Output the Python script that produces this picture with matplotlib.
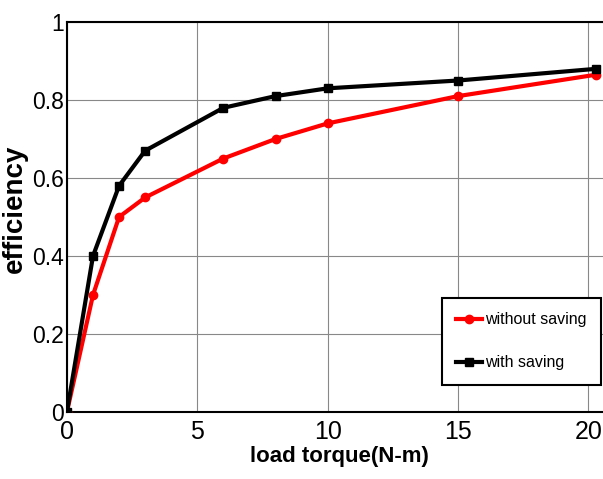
# Efficiency vs load torque, with and without energy saving

import matplotlib.pyplot as plt

plt.rcParams['font.family'] = ['Liberation Sans', 'DejaVu Sans']

# Data
torque = [0, 1, 2, 3, 6, 8, 10, 15, 20.3]
eff_without = [0, 0.30, 0.50, 0.55, 0.65, 0.70, 0.74, 0.81, 0.865]
eff_with = [0, 0.40, 0.58, 0.67, 0.78, 0.81, 0.83, 0.85, 0.88]

xticks = [0, 5, 10, 15, 20]
yticks = [0, 0.2, 0.4, 0.6, 0.8, 1]
ytick_labels = ["0", "0.2", "0.4", "0.6", "0.8", "1"]

fig = plt.figure(figsize=(6.03, 4.79), dpi=100)
ax = fig.add_axes([0.111, 0.140, 0.895, 0.814])

ax.plot(torque, eff_without, color="red", lw=3, marker="o", ms=6,
        label="without saving", zorder=3)
ax.plot(torque, eff_with, color="black", lw=3, marker="s", ms=6,
        label="with saving", zorder=4)

ax.set_xlim(0, 20.7)
ax.set_ylim(0, 1)
ax.set_xticks(xticks)
ax.set_yticks(yticks)
ax.set_yticklabels(ytick_labels)
ax.grid(True, color="#888888", lw=0.8)
ax.tick_params(axis="x", direction="in", length=0, pad=6, labelsize=18)
ax.tick_params(axis="y", direction="in", length=0, pad=2, labelsize=16.5)
for s in ax.spines.values():
    s.set_linewidth(1.5)

ax.set_xlabel("load torque(N-m)", fontsize=16, fontweight="bold")
ax.xaxis.set_label_coords(0.505, -0.088)
ax.set_ylabel("efficiency", fontsize=20, fontweight="bold")
ax.yaxis.set_label_coords(-0.072, 0.52)

leg = ax.legend(loc="upper right", bbox_to_anchor=(0.989, 0.292),
                prop={"size": 11.5}, fancybox=False,
                edgecolor="black", framealpha=1, handlelength=1.6,
                handletextpad=0.2, labelspacing=1.75, borderpad=0.9,
                borderaxespad=0)
leg.get_frame().set_linewidth(1.5)

fig.savefig("out.png", dpi=100)
